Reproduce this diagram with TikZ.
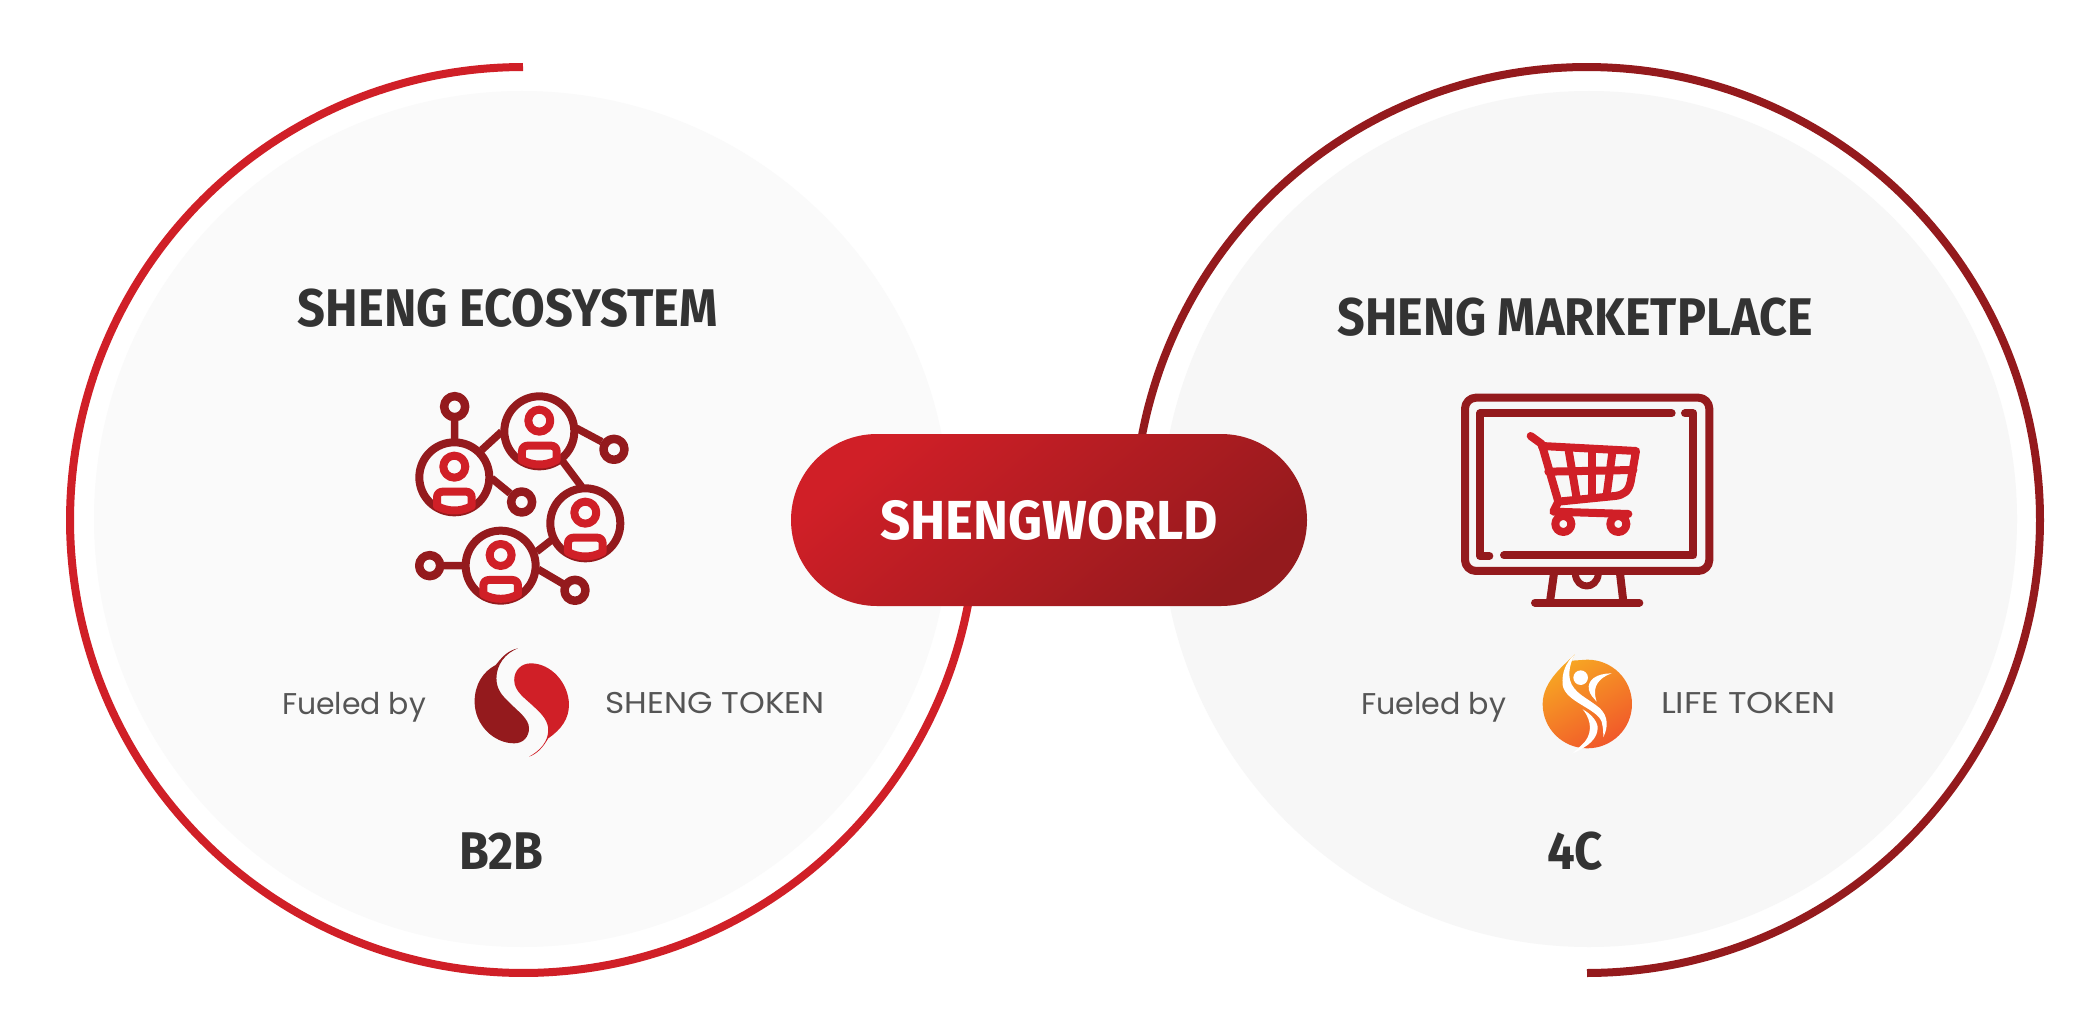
\documentclass[tikz,border=0pt]{standalone}
\usepackage{graphicx}
\usepackage{fontspec}
\usetikzlibrary{shapes.misc}
\newfontfamily\hdfont{Fira Sans}
\newfontfamily\bodyfont{Poppins}
\newcommand\fitw[2]{\resizebox{#1pt}{\height}{#2}}
\definecolor{redA}{HTML}{D01F27}
\definecolor{redB}{HTML}{941A1D}
\definecolor{discL}{HTML}{FAFAFA}
\definecolor{discR}{HTML}{F7F7F7}
\definecolor{headc}{HTML}{333333}
\definecolor{bodyc}{HTML}{555555}
\definecolor{orA}{HTML}{F7A823}
\definecolor{orB}{HTML}{F1592A}
\tikzset{
  heading/.style={anchor=base,inner sep=0,text=headc,font=\hdfont\bfseries\fontsize{53}{60}\selectfont},
  bodytext/.style={anchor=base,inner sep=0,text=bodyc,font=\bodyfont\fontsize{30}{36}\selectfont},
  ring/.style={line width=8pt,line cap=butt},
  dk/.style={draw=redB,line cap=round,line join=round},
  lt/.style={draw=redA,line cap=round,line join=round},
  person/.pic={
    \draw[dk,line width=8pt] (0,0) circle[radius=35pt];
    \draw[lt,line width=8pt] (0,-32) circle[radius=11pt];
    \draw[lt,line width=8pt] (-52,86) -- (-52,60) .. controls (-52,50) and (-45,43) .. (-35,43) -- (35,43)
       .. controls (45,43) and (52,50) .. (52,60) -- (52,86) .. controls (20,104) and (-20,104) .. cycle;
  },
}
\begin{document}
\begin{tikzpicture}[x=1pt,y=-1pt]
\useasboundingbox[fill=white] (0,0) rectangle (2095,1014);
% discs
\fill[discL] (522,519) circle[radius=428pt];
\fill[discR] (1589,519) circle[radius=428pt];
% rings
\draw[ring,redA] plot[domain=90:352,samples=240] ({523+453*cos(\x)},{520-453*sin(\x)});
\draw[ring,redB] plot[domain=-90:172,samples=240] ({1587+453*cos(\x)},{520-453*sin(\x)});
% pill
\node[rounded rectangle,minimum width=516pt,minimum height=172pt,inner sep=0,
  left color=redA,right color=redB,shading angle=40,text=white,
  font=\hdfont\bfseries\fontsize{55}{60}\selectfont] (pill) at (1049,520) {\fitw{338}{SHENGWORLD}};
% headings
\node[heading] (ecoT) at (508,326) {\fitw{420}{SHENG ECOSYSTEM}};
\node[heading] (mktT) at (1575,335) {\fitw{475}{SHENG MARKETPLACE}};
\node[heading] (b2b) at (501,869) {\fitw{84}{B2B}};
\node[heading] (fourc) at (1575,869) {\fitw{56}{4C}};
% fueled
\node[bodytext] (fa) at (354,714) {\fitw{144}{Fueled by}};
\node[bodytext] (sa) at (715,713) {\fitw{219}{SHENG TOKEN}};
\node[bodytext] (fb) at (1433.5,714) {\fitw{145}{Fueled by}};
\node[bodytext] (sb) at (1748.5,713) {\fitw{175}{LIFE TOKEN}};
% network icon
\begin{scope}[shift={(380,360)},x=0.3333pt,y=-0.3333pt]
  \foreach \p in {(224,140),(702,268),(425,426),(149,617),(585,691)}
    \draw[dk,line width=8.5pt] \p circle[radius=10.5pt];
  \draw[dk,line width=7.5pt,line cap=butt]
    (224,183)--(224,240) (305,270)--(365,215) (590,205)--(665,245) (335,355)--(390,400)
    (545,300)--(605,380) (470,575)--(515,540) (475,628)--(550,672) (190,617)--(250,617);
  \pic at (223,352) {person};
  \pic at (478,214) {person};
  \pic at (616,490) {person};
  \pic at (362,617) {person};
\end{scope}
% monitor icon
\begin{scope}[shift={(1430,370)},x=0.3333pt,y=-0.3333pt]
  \draw[dk,line width=8pt,rounded corners=11pt] (105,83) rectangle (838,603);
  \draw[dk,line width=8pt] (725,130) -- (150,130) -- (150,558) -- (178,558);
  \draw[dk,line width=8pt] (222,556) -- (790,556) -- (790,130) -- (765,130);
  \draw[dk,line width=8pt,line cap=butt] (372,610) -- (360,695);
  \draw[dk,line width=8pt,line cap=butt] (570,610) -- (580,695);
  \draw[dk,line width=8pt] (315,698) -- (628,698);
  \draw[dk,line width=7pt,line cap=butt] (436,612) .. controls (440,660) and (500,660) .. (505,612);
  % cart
  \begin{scope}[lt,line width=8pt]
    \draw (302,198) -- (335,222) -- (385,395);
    \draw (335,228) -- (618,243) -- (602,335) .. controls (596,365) and (580,375) .. (555,378) -- (385,395) -- (370,425) -- (595,432);
    \draw (355,305) -- (610,300);
    \draw (415,235) -- (440,385);
    \draw (485,238) -- (485,380);
    \draw (548,240) -- (530,375);
    \draw[line width=8pt] (400,462) circle[radius=8pt];
    \draw[line width=8pt] (565,462) circle[radius=8pt];
  \end{scope}
\end{scope}
% S logo
\begin{scope}[shift={(270,630)},x=0.37pt,y=-0.3333pt]
  \fill[redB] (670,55) .. controls (640,62) and (625,85) .. (610,105)
     .. controls (575,125) and (553,165) .. (553,215)
     .. controls (553,285) and (605,340) .. (660,340)
     .. controls (685,340) and (700,320) .. (700,295)
     .. controls (700,265) and (670,245) .. (645,215)
     .. controls (625,195) and (612,175) .. (612,145)
     .. controls (612,105) and (635,70) .. (670,55) -- cycle;
  \fill[redA] (700,380) .. controls (722,372) and (738,352) .. (752,325)
     .. controls (788,298) and (808,265) .. (808,225)
     .. controls (808,160) and (760,100) .. (705,100)
     .. controls (680,100) and (660,120) .. (660,150)
     .. controls (660,185) and (690,205) .. (715,232)
     .. controls (738,255) and (752,275) .. (752,300)
     .. controls (752,335) and (730,362) .. (700,380) -- cycle;
\end{scope}
% Life logo
\begin{scope}[shift={(1340,630)},x=0.3333pt,y=-0.3333pt]
  \shade[top color=orA,bottom color=orB,shading angle=30]
     (705,72) .. controls (680,100) and (608,150) .. (608,222)
     .. controls (608,296) and (668,355) .. (742,355)
     .. controls (816,355) and (876,296) .. (876,222)
     .. controls (876,148) and (816,89) .. (742,89)
     -- (695,92) -- cycle;
  \fill[white] (705,72) .. controls (675,100) and (665,130) .. (668,165)
     .. controls (675,215) and (770,235) .. (785,275)
     .. controls (790,295) and (790,310) .. (790,322)
     .. controls (805,290) and (805,260) .. (780,235)
     .. controls (745,205) and (700,190) .. (690,150)
     .. controls (685,125) and (690,100) .. (705,72) -- cycle;
  \fill[white] (722,143) circle[radius=7.3pt];
  \fill[white] (815,130) .. controls (770,130) and (740,150) .. (747,180)
     .. controls (750,195) and (762,205) .. (770,215)
     .. controls (760,185) and (760,150) .. (815,130) -- cycle;
  \fill[white] (728,238) .. controls (760,275) and (755,320) .. (725,345) -- (698,370)
     .. controls (745,350) and (775,325) .. (773,290)
     .. controls (770,270) and (750,250) .. (728,238) -- cycle;
\end{scope}
\end{tikzpicture}
\end{document}
